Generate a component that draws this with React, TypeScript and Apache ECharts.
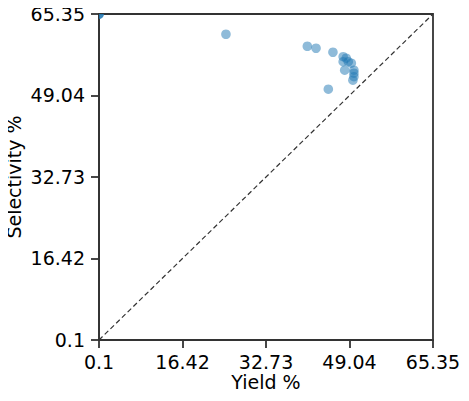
import React, { useEffect, useRef } from "react";
import * as echarts from "echarts";

const yieldValues = [0.1, 0.1, 0.1, 24.9, 40.8, 42.5, 45.8, 44.9, 47.8, 48.4, 47.8, 48.8, 49.4, 48.1, 49.9, 49.9, 49.9, 49.7];
const selectivityValues = [65.35, 65.35, 65.35, 61.3, 58.9, 58.5, 57.7, 50.3, 56.8, 56.5, 55.8, 55.8, 55.5, 54.1, 54.1, 53.5, 52.8, 52.1];
const tickValues = [0.1, 16.42, 32.73, 49.04, 65.35];
const axisMin = 0.1;
const axisMax = 65.35;

const font = "DejaVu Sans";
const ink = "#333";
const tickLen = 8;
const lineW = 1.8;

const makeAxis = (name: string, gap: number, labelMargin: number) => ({
  type: "value" as const,
  min: axisMin,
  max: axisMax,
  name,
  nameLocation: "middle" as const,
  nameGap: gap,
  nameMoveOverlap: false,
  nameTextStyle: { fontFamily: font, fontSize: 19, color: "#000" },
  splitLine: { show: false },
  axisLine: { show: true, lineStyle: { color: ink, width: lineW } },
  axisTick: {
    show: true,
    length: tickLen,
    lineStyle: { color: ink, width: lineW },
    customValues: tickValues,
  },
  axisLabel: {
    fontFamily: font,
    fontSize: 19,
    color: "#000",
    margin: labelMargin,
    customValues: tickValues,
    showMinLabel: true,
    showMaxLabel: true,
    formatter: (v: number) => String(v),
  },
});

export default function App() {
  const ref = useRef<HTMLDivElement>(null);

  useEffect(() => {
    if (!ref.current) return;
    const chart = echarts.init(ref.current, null, { renderer: "svg" });
    const points = yieldValues.map((x, i) => [x, selectivityValues[i]]);

    chart.setOption({
      animation: false,
      backgroundColor: "#fff",
      grid: {
        left: 99,
        right: 36,
        top: 14,
        bottom: 61,
        containLabel: false,
        outerBoundsMode: "none",
        show: true,
        borderColor: ink,
        borderWidth: lineW,
        backgroundColor: "transparent",
      },
      xAxis: makeAxis("Yield %", 32, 12),
      yAxis: makeAxis("Selectivity %", 76, 14),
      series: [
        {
          // y = x reference line
          type: "line",
          data: [
            [axisMin, axisMin],
            [axisMax, axisMax],
          ],
          symbol: "none",
          lineStyle: { color: ink, width: 1.2, type: [5, 3] },
          silent: true,
          z: 1,
        },
        {
          type: "custom",
          data: points,
          clip: true,
          z: 2,
          renderItem: (params: any, api: any) => {
            const [cx, cy] = api.coord([api.value(0), api.value(1)]);
            return {
              type: "circle",
              shape: { cx, cy, r: 4.8 },
              style: { fill: "rgba(31,119,180,0.5)", stroke: "none" },
            };
          },
        },
      ],
    });

    return () => chart.dispose();
  }, []);

  return <div ref={ref} style={{ width: 469, height: 401, margin: -8 }} />;
}
